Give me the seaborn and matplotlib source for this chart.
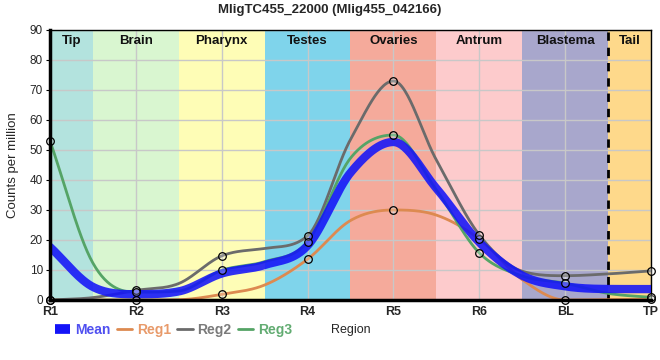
import numpy as np
import pandas as pd
import matplotlib
matplotlib.use("Agg")
import matplotlib.pyplot as plt
import seaborn as sns
from matplotlib.lines import Line2D

# valeurs (points des régions)
regions = ["R1", "R2", "R3", "R4", "R5", "R6", "BL", "TP"]
reg1 = [0.0, 0.0, 1.9, 13.6, 30.0, 20.3, 0.0, 0.3]
reg2 = [0.0, 3.2, 14.7, 21.4, 73.0, 21.7, 8.1, 9.7]
reg3 = [53.0, 2.6, 9.9, 19.4, 55.0, 15.7, 5.6, 0.9]

# valeurs des courbes lues aux limites des tissus (entre deux régions)
reg1_edges = [0.0, 0.1, 5.0, 26.5, 28.3, 6.8, 0.1]
reg2_edges = [0.8, 5.5, 17.2, 53.5, 46.7, 9.6, 8.7]
reg3_edges = [12.3, 3.0, 12.8, 47.3, 36.7, 8.0, 2.2]

tissues = ["Tip", "Brain", "Pharynx", "Testes", "Ovaries", "Antrum", "Blastema", "Tail"]
tissue_colors = ["#b3e3de", "#d9f6d0", "#fefdb6", "#7fd4eb", "#f5aa9b",
                 "#fdcbcc", "#a8a7cc", "#fed98b"]
tissue_edges = [0, 0.5, 1.5, 2.5, 3.5, 4.5, 5.5, 6.5, 7]

series_colors = {"Mean": "#1414f8", "Reg1": "#dd8a50", "Reg2": "#6b6b6b", "Reg3": "#55a466"}
legend_text_colors = {"Mean": "#5050f0", "Reg1": "#e89a6a", "Reg2": "#7a7a7a", "Reg3": "#62ac72"}


def smooth_line(x, y, n=30):
    # hermite monotone (Fritsch-Carlson) pour lisser le tracé entre les valeurs
    x = np.asarray(x, float)
    y = np.asarray(y, float)
    h = np.diff(x)
    s = np.diff(y) / h
    m = np.zeros(len(x))
    m[0], m[-1] = s[0], s[-1]
    for i in range(1, len(x) - 1):
        if s[i - 1] * s[i] > 0:
            m[i] = (s[i - 1] + s[i]) / 2
    for i in range(len(s)):
        if s[i] == 0:
            m[i] = m[i + 1] = 0
            continue
        a, b = m[i] / s[i], m[i + 1] / s[i]
        if a * a + b * b > 9:
            tau = 3 / np.sqrt(a * a + b * b)
            m[i], m[i + 1] = tau * a * s[i], tau * b * s[i]
    u = np.linspace(0, 1, n, endpoint=False)
    h00 = 2 * u**3 - 3 * u**2 + 1
    h10 = u**3 - 2 * u**2 + u
    h01 = -2 * u**3 + 3 * u**2
    h11 = u**3 - u**2
    xs, ys = [], []
    for i in range(len(x) - 1):
        xs.append(x[i] + u * h[i])
        ys.append(h00 * y[i] + h10 * h[i] * m[i] + h01 * y[i + 1] + h11 * h[i] * m[i + 1])
    xs.append([x[-1]])
    ys.append([y[-1]])
    return np.concatenate(xs), np.concatenate(ys)


def merge(vals, edges):
    out = []
    for i, v in enumerate(vals):
        out.append(v)
        if i < len(edges):
            out.append(edges[i])
    return out


xpos = np.arange(len(regions))
xall = np.arange(0, len(regions) - 0.5, 0.5)
series = {"Reg1": merge(reg1, reg1_edges),
          "Reg2": merge(reg2, reg2_edges),
          "Reg3": merge(reg3, reg3_edges)}
series["Mean"] = list(np.mean([series["Reg1"], series["Reg2"], series["Reg3"]], axis=0))

curves = []
for name, vals in series.items():
    cx, cy = smooth_line(xall, vals)
    curves.append(pd.DataFrame({"x": cx, "y": cy, "serie": name}))
df_curves = pd.concat(curves)
df_points = pd.concat([pd.DataFrame({"x": xpos, "y": v, "serie": k})
                       for k, v in [("Reg1", reg1), ("Reg2", reg2), ("Reg3", reg3)]])

sns.set_style("white")
plt.rcParams["font.family"] = ["Liberation Sans", "DejaVu Sans"]

fig = plt.figure(figsize=(6.6, 3.6), dpi=100)
ax = fig.add_axes([50 / 660, 60 / 360, 601 / 660, 270 / 360])

for i, tname in enumerate(tissues):
    ax.axvspan(tissue_edges[i], tissue_edges[i + 1], color=tissue_colors[i], zorder=0, lw=0)
    ax.text((tissue_edges[i] + tissue_edges[i + 1]) / 2, 88.3, tname, ha="center", va="top",
            fontsize=9.5, fontweight="bold", color="#111111", zorder=5)

ax.set_xticks(xpos)
ax.set_yticks(range(0, 91, 10))
ax.grid(True, color="#c8c8c8", lw=1, zorder=1)
for gl in ax.get_xgridlines() + ax.get_ygridlines():
    gl.set_zorder(1)

ax.axvline(6.5, color="black", lw=2, ls=(0, (3, 2.5)), zorder=3)

for name in ["Reg1", "Reg2", "Reg3"]:
    sub = df_curves[df_curves["serie"] == name]
    sns.lineplot(data=sub, x="x", y="y", color=series_colors[name], lw=2, ax=ax,
                 sort=False, zorder=4, legend=False)
sub = df_curves[df_curves["serie"] == "Mean"]
sns.lineplot(data=sub, x="x", y="y", color=series_colors["Mean"], lw=6, alpha=0.88, ax=ax,
             sort=False, zorder=5, legend=False)
sns.scatterplot(data=df_points, x="x", y="y", ax=ax, s=30, facecolor=(1, 1, 1, 0.25),
                edgecolor="black", linewidth=0.9, zorder=6, legend=False, clip_on=False)

ax.set_xlim(0, 7)
ax.set_ylim(0, 90)
ax.set_xticklabels(regions, fontsize=9, fontweight="bold")
ax.tick_params(axis="y", labelsize=8.5, length=3, color="black", pad=2, left=True)
ax.tick_params(axis="x", length=0, pad=4)
ax.set_xlabel("")
ax.set_ylabel("Counts per million", fontsize=9.5)
ax.yaxis.set_label_coords(-0.052, 0.5)
fig.text(351 / 660, 1 - 330 / 360, "Region", ha="center", va="center", fontsize=9)
for side in ["top", "right"]:
    ax.spines[side].set_visible(True)
    ax.spines[side].set_color("black")
    ax.spines[side].set_linewidth(1)
for side in ["left", "bottom"]:
    ax.spines[side].set_color("black")
    ax.spines[side].set_linewidth(2.5)
    ax.spines[side].set_zorder(7)

handles = [Line2D([0], [0], color=series_colors["Mean"], lw=7, solid_capstyle="butt"),
           Line2D([0], [0], color=series_colors["Reg1"], lw=2),
           Line2D([0], [0], color=series_colors["Reg2"], lw=2),
           Line2D([0], [0], color=series_colors["Reg3"], lw=2)]
labels = ["Mean", "Reg1", "Reg2", "Reg3"]
leg = fig.legend(handles, labels, loc="center left", bbox_to_anchor=(55 / 660, 1 - 330 / 360),
                 ncol=4, frameon=False, handlelength=1.1, handletextpad=0.35,
                 columnspacing=0.45, prop={"size": 10, "weight": "bold"},
                 borderaxespad=0, borderpad=0)
for txt, lab in zip(leg.get_texts(), labels):
    txt.set_color(legend_text_colors[lab])

fig.suptitle("MligTC455_22000 (Mlig455_042166)", x=0.5, y=0.99, fontsize=9.5, fontweight="bold")

fig.savefig("out.png", dpi=100)
